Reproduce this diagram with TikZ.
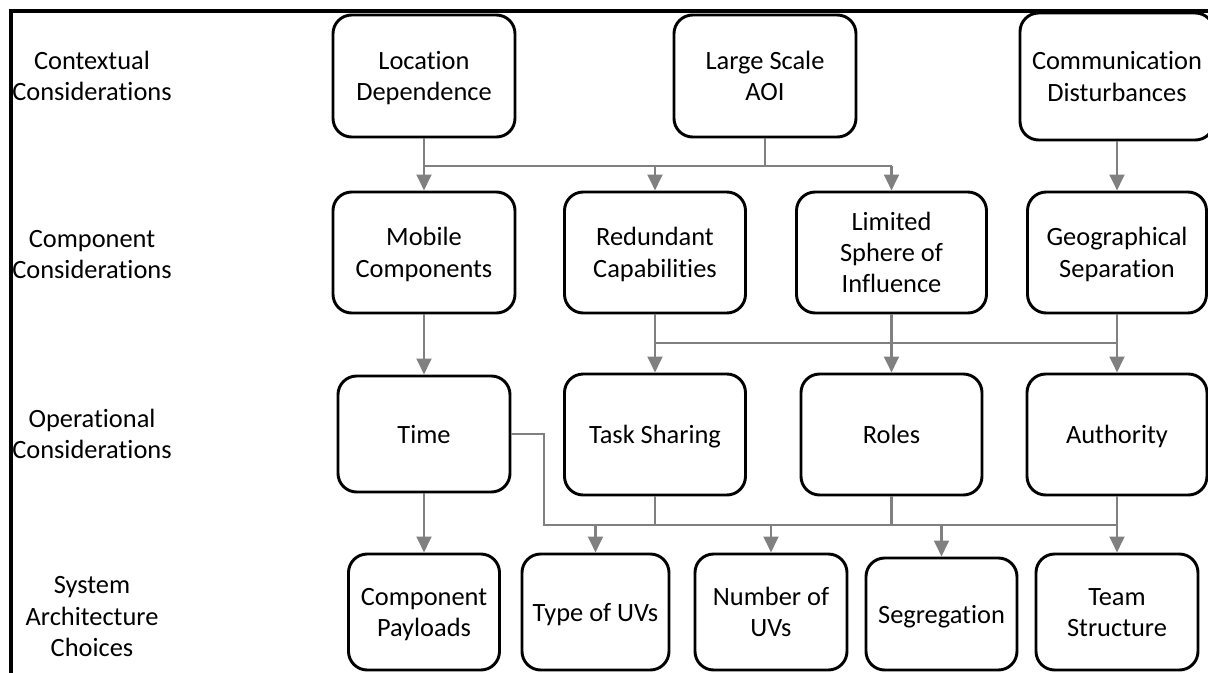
\documentclass[tikz,border=0pt]{standalone}
\usepackage{fontspec}
\setmainfont{Carlito}[Ligatures=NoCommon]
\usetikzlibrary{arrows.meta}
\definecolor{conncol}{RGB}{128,128,128}
\newcommand{\topstrut}{\rule{0pt}{18.5pt}}
\newcommand{\botstrut}{\rule[-4.8pt]{0pt}{4.8pt}}
\tikzset{
  box/.style={draw=black, line width=2.2pt, rounded corners=14pt, fill=white,
    align=center, inner sep=0pt, font=\fontsize{19.8}{23.5}\selectfont},
  lbl/.style={align=center, inner sep=0pt, font=\fontsize{19.8}{23.5}\selectfont},
  conn/.style={draw=conncol, line width=2.2pt},
  arr/.style={conn, -{Triangle[length=12pt,width=11pt]}},
  frameline/.style={draw=black, line width=2.3pt}
}
\newcommand{\bx}[6]{\node[box, minimum width=#4*0.75pt, minimum height=#5*0.75pt] (#1) at (#2,#3) {\topstrut#6\botstrut};}
\begin{document}
\begin{tikzpicture}[x=0.75pt,y=-0.75pt]
\useasboundingbox (0,0) rectangle (1208,672);
\clip (0,0) rectangle (1208,672);
\fill[white] (0,0) rectangle (1208,672);
% frame
\draw[frameline] (11,690) -- (11,11) -- (1230,11);
% row labels
\node[lbl] (l1) at (92,76) {\topstrut Contextual\\Considerations\botstrut};
\node[lbl] (l2) at (92,254) {\topstrut Component\\Considerations\botstrut};
\node[lbl] (l3) at (92,434) {\topstrut Operational\\Considerations\botstrut};
\node[lbl] (l4) at (92,616) {\topstrut System\\Architecture\\Choices\botstrut};
% row 1
\bx{loc}{424}{76}{182}{122}{Location\\Dependence}
\bx{aoi}{765}{76}{182}{122}{Large Scale\\AOI}
\bx{comm}{1117}{76.5}{194}{127}{Communication\\Disturbances}
% row 2
\bx{mob}{424}{252.5}{182}{121}{Mobile\\Components}
\bx{red}{655}{252.5}{181}{121}{Redundant\\Capabilities}
\bx{lim}{891.5}{252.5}{190}{121}{Limited\\Sphere of\\Influence}
\bx{geo}{1117}{252.5}{179}{121}{Geographical\\Separation}
% row 3
\bx{time}{424}{434}{172}{116}{Time}
\bx{task}{655}{434.5}{181}{121}{Task Sharing}
\bx{roles}{891.5}{434.5}{181}{121}{Roles}
\bx{auth}{1117}{434.5}{180}{121}{Authority}
% row 4
\bx{pay}{424}{612}{151}{116}{Component\\Payloads}
\bx{type}{595.5}{612}{147}{116}{Type of UVs}
\bx{num}{771}{612}{152}{116}{Number of\\UVs}
\bx{seg}{941.5}{614}{151}{112}{Segregation}
\bx{team}{1117}{612}{162}{116}{Team\\Structure}
% junction coordinates
\coordinate (j1) at (765,166);
\coordinate (j2) at (655,343);
\coordinate (j3) at (655,525);
\coordinate (tb) at (544,434);
% row1 -> row2
\draw[arr] (loc.south) -- (mob.north);
\draw[conn] (aoi.south) -- (j1);
\draw[conn] (loc.south |- j1) -- (lim.north |- j1);
\draw[arr] (red.north |- j1) -- (red.north);
\draw[arr] (lim.north |- j1) -- (lim.north);
\draw[arr] (comm.south) -- (geo.north);
% row2 -> row3
\draw[arr] (mob.south) -- (time.north);
\draw[arr] (red.south) -- (task.north);
\draw[arr] (lim.south) -- (roles.north);
\draw[arr] (geo.south) -- (auth.north);
\draw[conn] (red.south |- j2) -- (geo.south |- j2);
% row3 -> row4
\draw[arr] (time.south) -- (pay.north);
\draw[conn] (time.east) -- (tb) -- (tb |- j3) -- (auth.south |- j3);
\draw[conn] (task.south) -- (j3);
\draw[conn] (roles.south) -- (roles.south |- j3);
\draw[arr] (auth.south) -- (team.north);
\draw[arr] (type.north |- j3) -- (type.north);
\draw[arr] (num.north |- j3) -- (num.north);
\draw[arr] (seg.north |- j3) -- (seg.north);
\end{tikzpicture}
\end{document}
